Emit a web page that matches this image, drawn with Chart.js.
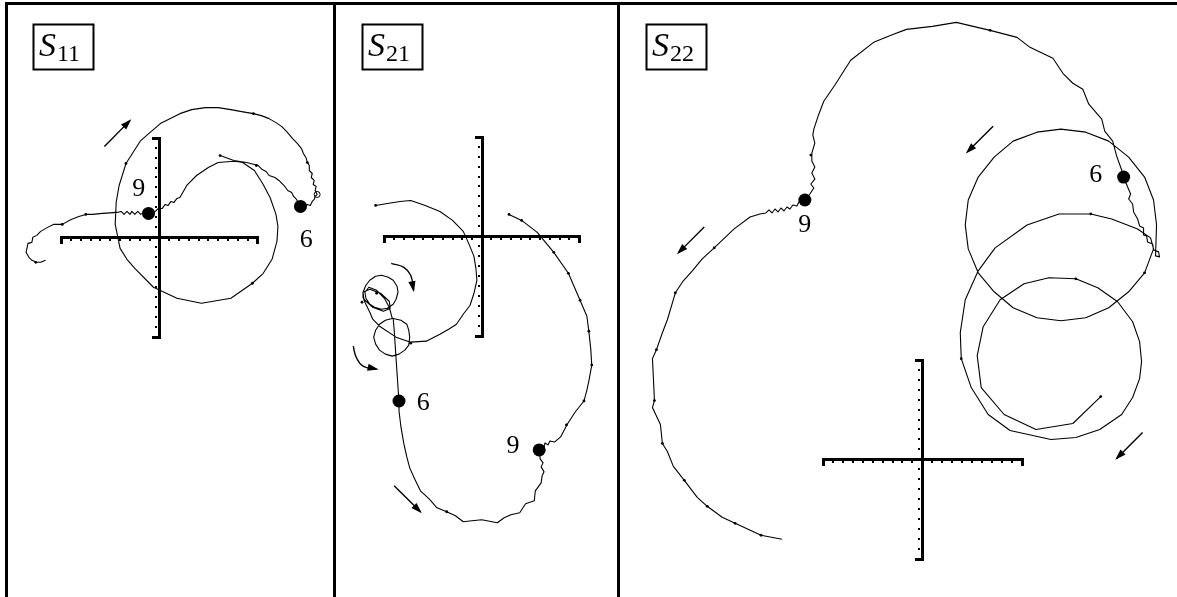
<!DOCTYPE html>
<html>
<head>
<meta charset="utf-8">
<script src="https://cdn.jsdelivr.net/npm/chart.js@4.4.1/dist/chart.umd.min.js"></script>
<style>
  html, body { margin: 0; padding: 0; background: #fff; }
  #wrap { position: relative; width: 1177px; height: 597px; overflow: hidden; background: #fff; }
  .panel { position: absolute; top: 0; height: 597px; }
  .panel canvas { display: block; }
  .rule { position: absolute; background: #000; }
</style>
</head>
<body>
<div id="wrap">
  <div class="panel" style="left:0;width:334px"><canvas id="p11"></canvas></div>
  <div class="panel" style="left:334px;width:285px"><canvas id="p21"></canvas></div>
  <div class="panel" style="left:619px;width:558px"><canvas id="p22"></canvas></div>
  <div class="rule" style="left:5px;top:2px;width:1172px;height:3px"></div>
  <div class="rule" style="left:5px;top:2px;width:3px;height:595px"></div>
  <div class="rule" style="left:333px;top:2px;width:3px;height:595px"></div>
  <div class="rule" style="left:617px;top:2px;width:3px;height:595px"></div>
</div>
<script>
// Reflection / transmission loci in normalised units: the crosshair spans -1..1
// with a minor tick every 0.1.
const crossTicks = [-0.9, -0.8, -0.7, -0.6, -0.5, -0.4, -0.3, -0.2, -0.1,
                     0.1, 0.2, 0.3, 0.4, 0.5, 0.6, 0.7, 0.8, 0.9];

// ---- S11 ----
const s11Re = [
  0.62, 0.76, 0.89, 0.97, 1.01, 1.05, 1.09, 1.12, 1.18, 1.22,
  1.25, 1.28, 1.31, 1.35, 1.37, 1.40, 1.42, 1.44, 1.48, 1.51,
  1.54, 1.56, 1.58, 1.59, 1.61, 1.59, 1.60, 1.57, 1.58, 1.55,
  1.56, 1.53, 1.53, 1.51, 1.50, 1.47, 1.45, 1.41, 1.36, 1.30,
  1.25, 1.19, 1.12, 1.04, 0.96, 0.84, 0.73, 0.60, 0.47, 0.33,
  0.21, 0.01, -0.19, -0.34, -0.41, -0.44, -0.45, -0.40, -0.33, -0.25,
  -0.06, 0.18, 0.43, 0.73, 0.95, 1.06, 1.15, 1.20, 1.21, 1.19,
  1.13, 1.06, 0.97, 0.85, 0.79, 0.73, 0.60, 0.50, 0.38, 0.28,
  0.21, 0.18, 0.15, 0.12, 0.09, 0.06, 0.03, -0.01, -0.04, -0.11,
  -0.16, -0.19, -0.22, -0.25, -0.28, -0.30, -0.33, -0.36, -0.39, -0.43,
  -0.58, -0.68, -0.75, -0.82, -0.90, -0.99, -1.08, -1.14, -1.21, -1.25,
  -1.29, -1.30, -1.34, -1.35, -1.36, -1.33, -1.30, -1.25, -1.21, -1.16
];
const s11Im = [
  0.82, 0.77, 0.75, 0.73, 0.72, 0.68, 0.66, 0.62, 0.60, 0.57,
  0.54, 0.51, 0.47, 0.45, 0.41, 0.38, 0.34, 0.31, 0.30, 0.33,
  0.32, 0.36, 0.38, 0.41, 0.43, 0.47, 0.51, 0.53, 0.57, 0.60,
  0.64, 0.67, 0.72, 0.75, 0.79, 0.84, 0.89, 0.94, 0.99, 1.06,
  1.11, 1.15, 1.19, 1.22, 1.24, 1.26, 1.28, 1.30, 1.30, 1.28,
  1.24, 1.14, 0.97, 0.74, 0.52, 0.35, 0.13, -0.11, -0.22, -0.31,
  -0.50, -0.61, -0.66, -0.61, -0.46, -0.36, -0.22, -0.04, 0.11, 0.23,
  0.40, 0.53, 0.67, 0.75, 0.76, 0.76, 0.75, 0.70, 0.62, 0.52,
  0.40, 0.39, 0.35, 0.36, 0.32, 0.33, 0.29, 0.29, 0.26, 0.24,
  0.25, 0.23, 0.26, 0.23, 0.26, 0.23, 0.26, 0.23, 0.26, 0.25,
  0.24, 0.23, 0.23, 0.21, 0.18, 0.13, 0.13, 0.10, 0.06, 0.02,
  0.00, -0.05, -0.06, -0.11, -0.15, -0.20, -0.23, -0.25, -0.25, -0.23
];
// sample markers along the S11 locus
const s11TickRe = [0.62, -0.34, 0.95, -0.75, -0.99, -1.26, 0.96, 0.99, 1.51];
const s11TickIm = [0.82, 0.74, -0.46, 0.23, 0.13, -0.25, 1.24, 0.72, 0.75];
const s11DotRe = [-0.11, 1.44];
const s11DotIm = [0.24, 0.31];
const s11DotText = ['9', '6'];
const s11TextRe = [-0.21, 1.50];
const s11TextIm = [0.50, -0.01];
const s11OpenRe = [1.61];
const s11OpenIm = [0.43];
const s11ArrowRe = [-0.56, -0.30];
const s11ArrowIm = [0.91, 1.17];

// ---- S21 ----
const s21Re = [
  -1.09, -0.97, -0.84, -0.73, -0.58, -0.43, -0.30, -0.19, -0.13, -0.08,
  -0.06, -0.05, -0.08, -0.12, -0.19, -0.26, -0.34, -0.43, -0.57, -0.73,
  -0.88, -1.05, -1.12, -1.15, -1.18, -1.20, -1.22, -1.22, -1.15, -1.04,
  -0.95, -0.94, -1.01, -1.12, -1.21, -1.22, -1.19, -1.15, -1.09, -1.03,
  -0.96, -0.91, -0.87, -0.86, -0.88, -0.91, -0.97, -1.03, -1.10, -1.15,
  -1.19, -1.20, -1.16, -1.08, -1.00, -0.95, -0.92, -0.83, -0.77, -0.75,
  -0.74, -0.75, -0.79, -0.85, -0.92, -0.99, -1.05, -1.09, -1.11, -1.09,
  -1.05, -0.99, -0.91, -0.90, -0.89, -0.88, -0.87, -0.86, -0.85, -0.85,
  -0.83, -0.80, -0.77, -0.74, -0.69, -0.63, -0.54, -0.46, -0.36, -0.27,
  -0.19, -0.10, 0.00, 0.16, 0.23, 0.30, 0.39, 0.45, 0.54, 0.55,
  0.61, 0.62, 0.64, 0.61, 0.63, 0.60, 0.59, 0.64, 0.65, 0.68,
  0.70, 0.75, 0.81, 0.88, 0.96, 1.05, 1.08, 1.10, 1.13, 1.12,
  1.10, 1.08, 1.01, 0.89, 0.74, 0.57, 0.41, 0.28
];
const s21Im = [
  0.31, 0.33, 0.35, 0.36, 0.31, 0.25, 0.16, 0.05, -0.08, -0.20,
  -0.32, -0.44, -0.57, -0.69, -0.78, -0.88, -0.93, -0.98, -1.05, -1.06,
  -1.01, -0.90, -0.83, -0.76, -0.70, -0.66, -0.61, -0.56, -0.53, -0.57,
  -0.65, -0.72, -0.75, -0.71, -0.63, -0.56, -0.49, -0.44, -0.40, -0.39,
  -0.41, -0.44, -0.50, -0.56, -0.63, -0.68, -0.72, -0.73, -0.71, -0.68,
  -0.62, -0.56, -0.51, -0.54, -0.62, -0.71, -0.82, -0.84, -0.88, -0.94,
  -1.01, -1.09, -1.14, -1.18, -1.20, -1.18, -1.14, -1.08, -1.01, -0.94,
  -0.88, -0.84, -0.82, -0.93, -1.08, -1.23, -1.37, -1.52, -1.65, -1.75,
  -1.91, -2.08, -2.21, -2.32, -2.43, -2.55, -2.63, -2.72, -2.76, -2.80,
  -2.86, -2.85, -2.84, -2.87, -2.82, -2.79, -2.77, -2.68, -2.65, -2.55,
  -2.47, -2.40, -2.36, -2.31, -2.27, -2.23, -2.14, -2.11, -2.07, -2.09,
  -2.05, -2.06, -2.01, -1.88, -1.76, -1.65, -1.54, -1.45, -1.29, -1.13,
  -0.95, -0.80, -0.64, -0.37, -0.16, 0.04, 0.16, 0.22
];
const s21TickRe = [-1.09, 0.28, 0.41, 0.74, 0.89, 1.01, 1.10, 1.13, 1.05, 0.87, -0.36, -0.73, -1.08, -1.23];
const s21TickIm = [0.31, 0.22, 0.16, -0.16, -0.37, -0.64, -0.95, -1.29, -1.65, -1.89, -2.76, -1.07, -0.57, -0.66];
const s21DotRe = [-0.85, 0.59];
const s21DotIm = [-1.65, -2.14];
const s21DotText = ['6', '9'];
const s21TextRe = [-0.60, 0.32];
const s21TextIm = [-1.65, -2.09];
const s21ArrowRe = [-0.90, -0.63];
const s21ArrowIm = [-2.50, -2.76];
const s21TurnARe = [-0.93, -0.80, -0.73, -0.70];
const s21TurnAIm = [-0.27, -0.31, -0.39, -0.54];
const s21TurnBRe = [-1.32, -1.29, -1.22, -1.08];
const s21TurnBIm = [-1.10, -1.21, -1.30, -1.33];

// ---- S22 ----
const s22Re = [
  -1.41, -1.62, -1.88, -2.01, -2.16, -2.26, -2.39, -2.50, -2.56, -2.61,
  -2.63, -2.71, -2.69, -2.70, -2.71, -2.67, -2.61, -2.56, -2.48, -2.40,
  -2.31, -2.21, -2.09, -1.89, -1.73, -1.63, -1.57, -1.54, -1.51, -1.48,
  -1.45, -1.42, -1.39, -1.36, -1.33, -1.30, -1.26, -1.24, -1.18, -1.13,
  -1.09, -1.12, -1.08, -1.11, -1.08, -1.11, -1.11, -1.08, -1.10, -1.09,
  -1.04, -0.99, -0.88, -0.72, -0.49, -0.29, -0.16, 0.10, 0.34, 0.68,
  0.95, 1.08, 1.31, 1.41, 1.51, 1.61, 1.67, 1.80, 1.83, 1.91,
  1.95, 2.00, 2.02, 2.06, 2.09, 2.07, 2.11, 2.12, 2.16, 2.18,
  2.22, 2.22, 2.25, 2.26, 2.31, 2.32, 2.37, 2.38, 2.34, 2.35,
  2.32, 2.23, 2.07, 1.87, 1.64, 1.39, 1.15, 0.91, 0.72, 0.56,
  0.46, 0.43, 0.46, 0.56, 0.72, 0.91, 1.15, 1.39, 1.64, 1.87,
  2.07, 2.23, 2.32, 2.29, 2.16, 1.90, 1.69, 1.37, 1.05, 0.73,
  0.56, 0.43, 0.38, 0.39, 0.49, 0.66, 0.88, 1.29, 1.54, 1.78,
  2.00, 2.11, 2.18, 2.20, 2.18, 2.11, 1.96, 1.76, 1.54, 1.27,
  1.02, 0.78, 0.61, 0.55, 0.59, 0.82, 1.14, 1.51, 1.79
];
const s22Im = [
  -0.80, -0.76, -0.64, -0.58, -0.47, -0.38, -0.21, -0.07, 0.08, 0.16,
  0.35, 0.52, 0.59, 0.81, 1.01, 1.10, 1.27, 1.40, 1.67, 1.79,
  1.89, 2.01, 2.12, 2.31, 2.43, 2.46, 2.47, 2.50, 2.47, 2.51,
  2.48, 2.52, 2.49, 2.53, 2.51, 2.55, 2.54, 2.58, 2.60, 2.66,
  2.72, 2.76, 2.81, 2.87, 2.93, 2.99, 3.07, 3.17, 3.25, 3.31,
  3.46, 3.59, 3.75, 4.00, 4.18, 4.26, 4.31, 4.34, 4.38, 4.30,
  4.23, 4.13, 4.02, 3.87, 3.77, 3.71, 3.56, 3.41, 3.29, 3.19,
  3.04, 2.90, 2.83, 2.73, 2.66, 2.61, 2.56, 2.48, 2.41, 2.34,
  2.32, 2.25, 2.24, 2.18, 2.16, 2.10, 2.08, 2.03, 2.04, 2.35,
  2.60, 2.83, 3.03, 3.19, 3.28, 3.31, 3.28, 3.19, 3.03, 2.83,
  2.60, 2.35, 2.11, 1.87, 1.68, 1.52, 1.42, 1.39, 1.42, 1.52,
  1.68, 1.87, 2.11, 2.22, 2.31, 2.41, 2.46, 2.46, 2.35, 2.12,
  1.89, 1.60, 1.27, 1.01, 0.72, 0.45, 0.29, 0.20, 0.22, 0.30,
  0.45, 0.62, 0.81, 0.98, 1.18, 1.38, 1.58, 1.72, 1.81, 1.82,
  1.76, 1.60, 1.33, 1.04, 0.72, 0.45, 0.30, 0.36, 0.63
];
const s22TickRe = [-2.48, -2.67, -2.69, -2.61, -2.39, -2.16, -1.88, -1.62, -2.09, -1.12,
                   0.68, 1.69, 0.39, 1.54, 1.79, 2.23];
const s22TickIm = [1.67, 1.10, 0.59, 0.16, -0.21, -0.47, -0.64, -0.76, 2.12, 3.05,
                   4.30, 2.46, 1.01, 1.81, 0.63, 1.87];
const s22DotRe = [-1.18, 2.02];
const s22DotIm = [2.60, 2.83];
const s22DotText = ['9', '6'];
const s22TextRe = [-1.18, 1.74];
const s22TextIm = [2.36, 2.87];
const s22ArrowARe = [-2.19, -2.45];
const s22ArrowAIm = [2.33, 2.07];
const s22ArrowBRe = [0.71, 0.45];
const s22ArrowBIm = [3.34, 3.08];
const s22ArrowCRe = [2.21, 1.95];
const s22ArrowCIm = [0.27, 0.01];

// ---------------------------------------------------------------------------
const UNIT_PX = 102;       // pixels per unit on both axes (equal aspect)
const PANEL_H = 597;
const SERIF = '"Liberation Serif", "DejaVu Serif", serif';

function pairs(re, im) { return re.map((v, i) => ({ x: v, y: im[i] })); }

function traceSet(re, im) {
  return { data: pairs(re, im), showLine: true, borderColor: '#000', borderWidth: 1.1,
           pointRadius: 0, tension: 0, borderJoinStyle: 'round' };
}
function tickSet(re, im) {
  return { data: pairs(re, im), showLine: false, pointRadius: 1.4,
           pointBackgroundColor: '#000', pointBorderWidth: 0 };
}
function dotSet(re, im) {
  return { data: pairs(re, im), showLine: false, pointRadius: 6.5,
           pointBackgroundColor: '#000', pointBorderColor: '#000', pointBorderWidth: 0 };
}
function ringSet(re, im) {
  return { data: pairs(re, im), showLine: false, pointRadius: 3,
           pointBackgroundColor: '#fff', pointBorderColor: '#000', pointBorderWidth: 1 };
}
function arrowSet(re, im, curved) {
  return { data: pairs(re, im), showLine: true, borderColor: '#000', borderWidth: 1.4,
           pointRadius: 0, tension: curved ? 0.45 : 0, arrowHead: true };
}
function textItems(re, im, txt) { return re.map((v, i) => ({ x: v, y: im[i], t: txt[i] })); }

function decorPlugin(cfg) {
  return {
    id: 'panelDecor',
    beforeDatasetsDraw(chart) {
      const ctx = chart.ctx, xs = chart.scales.x, ys = chart.scales.y;
      const X = v => Math.round(xs.getPixelForValue(v));
      const Y = v => Math.round(ys.getPixelForValue(v));
      const x0 = X(0), y0 = Y(0), xl = X(-1), xr = X(1), yt = Y(1), yb = Y(-1);
      ctx.save();
      ctx.fillStyle = '#000';
      ctx.fillRect(xl, y0 - 1, xr - xl + 1, 3);
      ctx.fillRect(x0 - 1, yt, 3, yb - yt + 1);
      // end caps
      ctx.fillRect(xl - 1, y0 - 1, 3, 8);
      ctx.fillRect(xr - 1, y0 - 1, 3, 8);
      ctx.fillRect(x0 - 7, yt - 1, 9, 3);
      ctx.fillRect(x0 - 7, yb - 1, 9, 3);
      // minor ticks
      for (const t of crossTicks) {
        ctx.fillRect(X(t) - 1, y0 + 2, 2, 2);
        ctx.fillRect(x0 - 4, Y(t) - 1, 2, 2);
      }
      ctx.restore();
    },
    afterDatasetsDraw(chart) {
      const ctx = chart.ctx, xs = chart.scales.x, ys = chart.scales.y;
      ctx.save();
      // arrow heads
      chart.data.datasets.forEach((ds, i) => {
        if (!ds.arrowHead) return;
        const pts = chart.getDatasetMeta(i).data;
        const a = pts[pts.length - 2], b = pts[pts.length - 1];
        const ang = Math.atan2(b.y - a.y, b.x - a.x);
        const L = 9, W = 3.6;
        const c = Math.cos(ang), s = Math.sin(ang);
        ctx.fillStyle = '#000';
        ctx.beginPath();
        ctx.moveTo(b.x + c * 2, b.y + s * 2);
        ctx.lineTo(b.x - c * L - s * W, b.y - s * L + c * W);
        ctx.lineTo(b.x - c * L + s * W, b.y - s * L - c * W);
        ctx.closePath();
        ctx.fill();
      });
      // point labels
      ctx.fillStyle = '#000';
      ctx.font = '26px ' + SERIF;
      ctx.textAlign = 'center';
      ctx.textBaseline = 'alphabetic';
      for (const it of cfg.labels) {
        ctx.fillText(it.t, xs.getPixelForValue(it.x), ys.getPixelForValue(it.y) + 8.5);
      }
      // boxed title
      const bx = cfg.boxLeft, by = 24, bw = 60, bh = 45;
      ctx.lineWidth = 2;
      ctx.strokeStyle = '#000';
      ctx.strokeRect(bx + 0.5, by + 0.5, bw, bh);
      ctx.textAlign = 'left';
      ctx.font = 'italic 34px ' + SERIF;
      ctx.fillText('S', bx + 6, by + 32);
      const sw = ctx.measureText('S').width;
      ctx.font = '24px ' + SERIF;
      ctx.fillText(cfg.sub, bx + 6 + sw + 1, by + 37);
      ctx.restore();
    }
  };
}

function makePanel(cfg) {
  const canvas = document.getElementById(cfg.id);
  canvas.width = cfg.width;
  canvas.height = PANEL_H;
  canvas.style.width = cfg.width + 'px';
  canvas.style.height = PANEL_H + 'px';
  return new Chart(canvas, {
    type: 'scatter',
    data: { datasets: cfg.datasets },
    options: {
      responsive: false,
      animation: false,
      events: [],
      devicePixelRatio: 1,
      layout: { padding: 0 },
      plugins: { legend: { display: false }, tooltip: { enabled: false } },
      scales: {
        x: { type: 'linear', display: false,
             min: -cfg.ox / UNIT_PX, max: (cfg.width - cfg.ox) / UNIT_PX },
        y: { type: 'linear', display: false,
             min: -(PANEL_H - cfg.oy) / UNIT_PX, max: cfg.oy / UNIT_PX }
      }
    },
    plugins: [decorPlugin(cfg)]
  });
}

makePanel({
  id: 'p11', width: 334, ox: 159, oy: 236, boxLeft: 33, sub: '11',
  labels: textItems(s11TextRe, s11TextIm, s11DotText),
  datasets: [
    traceSet(s11Re, s11Im),
    tickSet(s11TickRe, s11TickIm),
    dotSet(s11DotRe, s11DotIm),
    ringSet(s11OpenRe, s11OpenIm),
    arrowSet(s11ArrowRe, s11ArrowIm, false)
  ]
});

makePanel({
  id: 'p21', width: 285, ox: 148, oy: 235, boxLeft: 28, sub: '21',
  labels: textItems(s21TextRe, s21TextIm, s21DotText),
  datasets: [
    traceSet(s21Re, s21Im),
    tickSet(s21TickRe, s21TickIm),
    dotSet(s21DotRe, s21DotIm),
    arrowSet(s21ArrowRe, s21ArrowIm, false),
    arrowSet(s21TurnARe, s21TurnAIm, true),
    arrowSet(s21TurnBRe, s21TurnBIm, true)
  ]
});

makePanel({
  id: 'p22', width: 558, ox: 304, oy: 463, boxLeft: 27, sub: '22',
  labels: textItems(s22TextRe, s22TextIm, s22DotText),
  datasets: [
    traceSet(s22Re, s22Im),
    tickSet(s22TickRe, s22TickIm),
    dotSet(s22DotRe, s22DotIm),
    arrowSet(s22ArrowARe, s22ArrowAIm, false),
    arrowSet(s22ArrowBRe, s22ArrowBIm, false),
    arrowSet(s22ArrowCRe, s22ArrowCIm, false)
  ]
});
</script>
</body>
</html>
